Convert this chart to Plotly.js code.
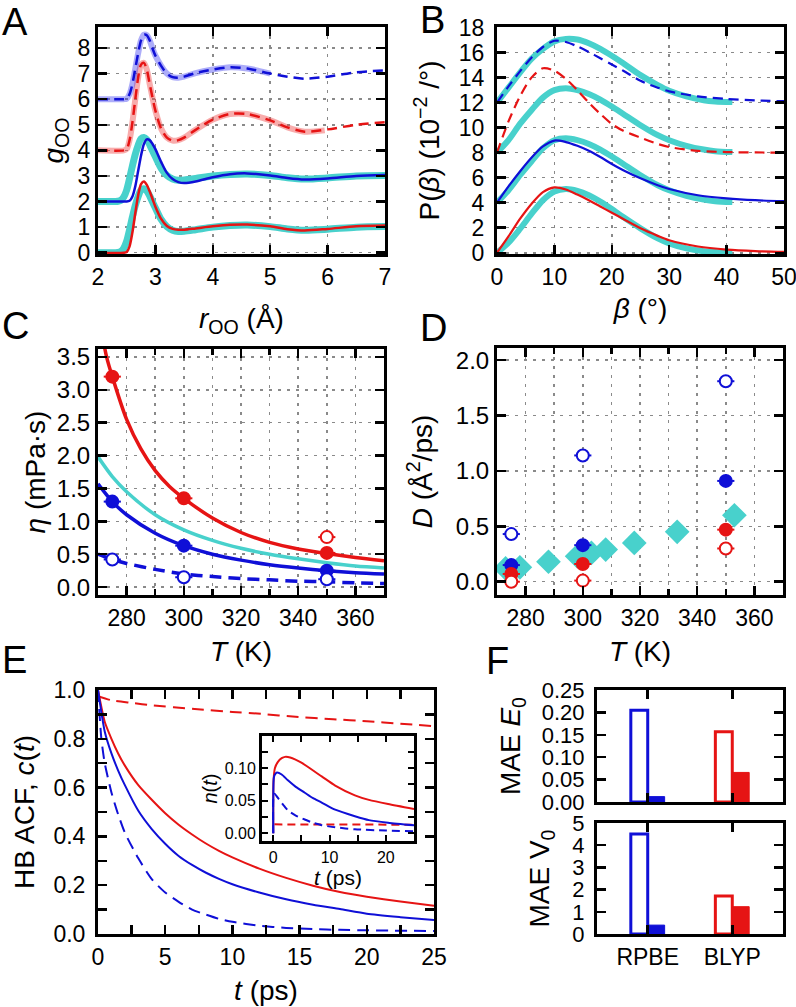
<!DOCTYPE html>
<html>
<head>
<meta charset="utf-8">
<script src="https://cdn.plot.ly/plotly-3.0.1.min.js"></script>
<style>html,body{margin:0;padding:0;background:#fff;}#plot{width:796px;height:1007px;}</style>
</head>
<body>
<div id="plot"></div>
<script>
// ---------- Panel A : g_OO(r) ----------
const aRExp  = [2.0,2.3,2.35,2.4,2.45,2.5,2.55,2.6,2.65,2.7,2.75,2.8,2.85,2.9,2.95,3.0,3.1,3.2,3.3,3.4,3.5,3.7,4.0,4.3,4.6,5.0,5.3,5.6,6.0,6.5,7.0];
const aGExp0 = [0,0,0.01,0.05,0.18,0.45,0.9,1.4,1.85,2.2,2.45,2.5,2.42,2.22,1.98,1.75,1.3,1.02,0.88,0.83,0.84,0.9,1.0,1.06,1.08,1.02,0.93,0.88,0.92,1.0,1.02];
const aGExp2 = [2,2,2.01,2.05,2.18,2.45,2.9,3.4,3.85,4.2,4.45,4.5,4.42,4.22,3.98,3.75,3.3,3.02,2.88,2.83,2.84,2.9,3.0,3.06,3.08,3.02,2.93,2.88,2.92,3.0,3.02];
const aRSim  = [2.0,2.45,2.5,2.55,2.6,2.65,2.7,2.75,2.8,2.85,2.9,2.95,3.0,3.1,3.2,3.3,3.4,3.5,3.7,4.0,4.3,4.6,5.0,5.3,5.6,6.0,6.5,7.0];
const aGRed0 = [0,0,0.03,0.25,0.8,1.55,2.25,2.68,2.78,2.65,2.4,2.1,1.8,1.32,1.04,0.93,0.9,0.9,0.95,1.03,1.09,1.1,1.03,0.92,0.87,0.93,1.03,1.06];
const aGBlue2= [2,2,2,2.03,2.2,2.6,3.2,3.8,4.25,4.43,4.4,4.25,4.05,3.55,3.12,2.88,2.76,2.72,2.78,2.95,3.07,3.1,3.02,2.92,2.86,2.9,3.0,3.04];
const aGRed4 = [4,4,4.05,4.4,5.1,6.0,6.85,7.35,7.42,7.15,6.6,6.05,5.55,4.85,4.5,4.38,4.4,4.5,4.8,5.2,5.42,5.42,5.17,4.9,4.73,4.82,5.0,5.1];
const aGBlue6= [6,6,6.02,6.2,6.6,7.2,7.8,8.3,8.52,8.5,8.3,7.98,7.7,7.3,7.0,6.86,6.84,6.88,7.02,7.16,7.25,7.2,7.0,6.88,6.8,6.88,7.05,7.12];
const aRRedThick  = [2.0,2.45,2.5,2.55,2.6,2.65,2.7,2.75,2.8,2.85,2.9,2.95,3.0,3.1,3.2,3.3,3.4,3.5,3.7,4.0,4.3,4.6,5.0,5.3,5.6,5.95];
const aGRedThick  = [4,4,4.05,4.4,5.1,6.0,6.85,7.35,7.42,7.15,6.6,6.05,5.55,4.85,4.5,4.38,4.4,4.5,4.8,5.2,5.42,5.42,5.17,4.9,4.73,4.78];
const aRBlueThick = [2.0,2.45,2.5,2.55,2.6,2.65,2.7,2.75,2.8,2.85,2.9,2.95,3.0,3.1,3.2,3.3,3.4,3.5,3.7,4.0,4.3,4.6,5.0];
const aGBlueThick = [6,6,6.02,6.2,6.6,7.2,7.8,8.3,8.52,8.5,8.3,7.98,7.7,7.3,7.0,6.86,6.84,6.88,7.02,7.16,7.25,7.2,7.0];

// ---------- Panel B : P(beta) ----------
const bBeta   = [0,2,4,6,8,10,12,14,16,18,20,22,25,28,30,35,40,45,50];
const bRed0   = [0,1.3,2.7,3.9,4.85,5.22,5.06,4.65,4.2,3.7,3.2,2.7,1.95,1.35,1.0,0.5,0.25,0.13,0.07];
const bBlue4  = [4,5.3,6.5,7.6,8.5,8.97,8.85,8.55,8.15,7.65,7.1,6.6,5.95,5.4,5.1,4.6,4.35,4.2,4.12];
const bRed8   = [8,10.5,12.5,14.0,14.75,14.55,13.9,13.0,12.0,11.1,10.3,9.75,9.2,8.7,8.45,8.15,8.05,8.02,8.0];
const bBlue12 = [12,13.3,14.5,15.6,16.45,16.95,16.85,16.5,16.05,15.55,15.05,14.55,13.75,13.2,12.9,12.5,12.3,12.18,12.12];
const bBetaExp = [0,2,4,6,8,10,12,14,16,18,20,22,25,28,30,33,36,38,41];
const bExp0   = [0,0.8,1.9,3.1,4.2,4.9,5.1,4.95,4.6,4.1,3.5,2.85,1.95,1.15,0.75,0.35,0.12,0.05,0.0];
const bExp4   = [4,5.0,6.2,7.3,8.35,9.0,9.15,9.0,8.7,8.25,7.7,7.1,6.2,5.4,5.0,4.55,4.25,4.12,4.05];
const bExp8   = [8,9.0,10.3,11.4,12.4,13.0,13.15,13.0,12.7,12.25,11.7,11.1,10.2,9.4,9.0,8.55,8.25,8.12,8.05];
const bExp12  = [12,13.2,14.4,15.5,16.3,16.9,17.1,17.05,16.75,16.3,15.75,15.15,14.2,13.4,12.95,12.5,12.2,12.1,12.05];

// ---------- Panel C : viscosity ----------
const cRedT     = [271,273,275,280,285,290,295,300,310,320,330,340,350,360,370];
const cRedFit   = [3.95,3.5,3.2,2.55,2.1,1.77,1.53,1.35,1.05,0.83,0.68,0.58,0.51,0.45,0.4];
const cT        = [270,275,280,290,300,310,320,330,340,350,360,370];
const cExpFit   = [1.98,1.68,1.45,1.1,0.87,0.71,0.59,0.5,0.43,0.37,0.32,0.29];
const cBlueFit  = [1.57,1.3,1.1,0.82,0.63,0.5,0.41,0.34,0.29,0.25,0.22,0.2];
const cBlueDash = [0.5,0.42,0.36,0.27,0.2,0.16,0.13,0.11,0.09,0.08,0.065,0.055];
const cPtT        = [275,300,350];
const cRedFilled  = [3.2,1.35,0.52];
const cBlueFilled = [1.3,0.63,0.25];
const cBlueOpen   = [0.42,0.15,0.12];
const cRedOpenT   = [350];
const cRedOpen    = [0.76];

// ---------- Panel D : diffusion ----------
const dPtT        = [275,300,350];
const dBlueOpen   = [0.43,1.14,1.81];
const dBlueFilled = [0.15,0.33,0.91];
const dRedFilled  = [0.07,0.16,0.47];
const dRedOpen    = [0.0,0.01,0.3];
const dExpT       = [273,278,288,298,303,308,318,333,353];
const dExp        = [0.12,0.13,0.18,0.23,0.26,0.29,0.35,0.45,0.6];

// ---------- Panel E : HB ACF ----------
const eT        = [0,0.5,1,1.5,2,3,4,5,6,7,8,9,10,12,14,16,18,20,22.5,25];
const eRed      = [1.0,0.87,0.8,0.74,0.69,0.61,0.55,0.495,0.448,0.408,0.372,0.341,0.314,0.268,0.23,0.198,0.172,0.153,0.133,0.116];
const eBlue     = [1.0,0.83,0.74,0.67,0.61,0.505,0.43,0.37,0.32,0.283,0.252,0.226,0.204,0.17,0.142,0.12,0.102,0.083,0.069,0.057];
const eTBd      = [0,0.25,0.5,1,1.5,2,3,4,5,6,7,8,9,10,12,14,16,18,20,25];
const eBlueDash = [1.0,0.8,0.7,0.58,0.49,0.415,0.31,0.225,0.17,0.132,0.1,0.08,0.062,0.05,0.034,0.025,0.02,0.017,0.015,0.012];
const eTRd      = [0,1,2.5,4,7.2,10,12.2,14.7,17.5,20,22.5,25];
const eRedDash  = [0.975,0.958,0.947,0.937,0.922,0.91,0.902,0.89,0.88,0.872,0.862,0.852];

// inset n(t)
const nTRed   = [0,0.05,0.3,0.8,1.5,2.1,3,5,8.6,11,14.5,17,20.4,25];
const nRed    = [0,0.08,0.1,0.109,0.115,0.117,0.116,0.108,0.087,0.073,0.058,0.051,0.0446,0.037];
const nTBlue  = [0,0.1,0.3,0.65,1.5,2.6,4,5.6,7,8.6,11,14.5,17,20.4,25];
const nBlue   = [0,0.085,0.09,0.093,0.09,0.081,0.071,0.062,0.054,0.047,0.036,0.026,0.02,0.016,0.012];
const nTBd    = [0,0.1,0.3,1,2,2.6,4,5.6,7,8.6,11,14.5,20,25];
const nBlueDash = [0,0.06,0.06,0.052,0.041,0.035,0.027,0.021,0.016,0.0123,0.009,0.006,0.004,0.003];
const nTRd    = [0.2,25];
const nRedDash = [0.0135,0.013];

// ---------- Panel F : MAE bars ----------
const fCats     = ['RPBE','BLYP'];
const fE0Open   = [0.205,0.157];
const fE0Filled = [0.012,0.066];
const fV0Open   = [4.5,1.71];
const fV0Filled = [0.4,1.23];

// ---------- styling ----------
const RED = 'rgb(230,20,20)', BLUE = 'rgb(15,15,215)', CYAN = 'rgb(72,209,204)';
const LRED = 'rgba(240,70,70,0.45)', LBLUE = 'rgba(60,60,240,0.42)';
const FONT = 'Liberation Sans, Arial, Helvetica, sans-serif';
const W = 796, H = 1007;
const dx = (a,b) => [a/W, b/W];
const dy = (a,b) => [1-b/H, 1-a/H];

function line(x,y,xa,ya,color,width,dash,shape,sm){
  return {x:x,y:y,xaxis:xa,yaxis:ya,type:'scatter',mode:'lines',hoverinfo:'skip',
    line:{color:color,width:width,dash:dash||'solid',shape:shape||'spline',smoothing:sm||0.8}};
}
function pts(x,y,xa,ya,color,open,size){
  return {x:x,y:y,xaxis:xa,yaxis:ya,type:'scatter',mode:'markers',hoverinfo:'skip',
    marker:{symbol:'circle',size:size||12,color:open?'white':color,line:{color:color,width:2}},
    error_x:{type:'constant',value:3,thickness:2,width:0,color:color}};
}

const traces = [];
// A
traces.push(line(aRExp,aGExp0,'x','y',CYAN,7));
traces.push(line(aRSim,aGRed0,'x','y',RED,2.5));
traces.push(line(aRExp,aGExp2,'x','y',CYAN,7));
traces.push(line(aRSim,aGBlue2,'x','y',BLUE,2.5));
traces.push(line(aRRedThick,aGRedThick,'x','y',LRED,6));
traces.push(line(aRSim,aGRed4,'x','y',RED,2.5,'10px,6px'));
traces.push(line(aRBlueThick,aGBlueThick,'x','y',LBLUE,6));
traces.push(line(aRSim,aGBlue6,'x','y',BLUE,2.5,'10px,6px'));
// B
traces.push(line(bBetaExp,bExp0,'x2','y2',CYAN,6));
traces.push(line(bBeta,bRed0,'x2','y2',RED,2.2));
traces.push(line(bBetaExp,bExp4,'x2','y2',CYAN,6));
traces.push(line(bBeta,bBlue4,'x2','y2',BLUE,2.2));
traces.push(line(bBetaExp,bExp8,'x2','y2',CYAN,6));
traces.push(line(bBeta,bRed8,'x2','y2',RED,2.2,'10px,6px'));
traces.push(line(bBetaExp,bExp12,'x2','y2',CYAN,6));
traces.push(line(bBeta,bBlue12,'x2','y2',BLUE,2.2,'10px,6px'));
// C
traces.push(line(cT,cExpFit,'x3','y3',CYAN,3.5));
traces.push(line(cRedT,cRedFit,'x3','y3',RED,3.5));
traces.push(line(cT,cBlueFit,'x3','y3',BLUE,3.5));
traces.push(line(cT,cBlueDash,'x3','y3',BLUE,3.5,'12px,7px'));
traces.push(pts(cPtT,cRedFilled,'x3','y3',RED,false));
traces.push(pts(cRedOpenT,cRedOpen,'x3','y3',RED,true));
traces.push(pts(cPtT,cBlueFilled,'x3','y3',BLUE,false));
traces.push(pts(cPtT,cBlueOpen,'x3','y3',BLUE,true));
// D
traces.push({x:dExpT,y:dExp,xaxis:'x4',yaxis:'y4',type:'scatter',mode:'markers',hoverinfo:'skip',
  marker:{symbol:'diamond',size:19,color:CYAN}});
traces.push(pts(dPtT,dBlueOpen,'x4','y4',BLUE,true));
traces.push(pts(dPtT,dBlueFilled,'x4','y4',BLUE,false));
traces.push(pts(dPtT,dRedFilled,'x4','y4',RED,false));
traces.push(pts(dPtT,dRedOpen,'x4','y4',RED,true));
// E
traces.push(line(eTRd,eRedDash,'x5','y5',RED,2,'12px,7px',null,0.6));
traces.push(line(eT,eRed,'x5','y5',RED,2,null,null,0.6));
traces.push(line(eT,eBlue,'x5','y5',BLUE,2,null,null,0.6));
traces.push(line(eTBd,eBlueDash,'x5','y5',BLUE,2,'12px,7px',null,0.6));
// inset
traces.push(line(nTRd,nRedDash,'x6','y6',RED,2,'8px,5px','linear'));
traces.push(line(nTRed,nRed,'x6','y6',RED,2,null,null,0.6));
traces.push(line(nTBd,nBlueDash,'x6','y6',BLUE,2,'8px,5px',null,0.6));
traces.push(line(nTBlue,nBlue,'x6','y6',BLUE,2,null,null,0.6));
// F
function bars(y,xa,ya,open){
  return {x:fCats,y:y,xaxis:xa,yaxis:ya,type:'bar',hoverinfo:'skip',
    marker:{color:open?['white','white']:[BLUE,RED],line:{color:[BLUE,RED],width:open?3:1}}};
}
traces.push(bars(fE0Open,'x7','y7',true));
traces.push(bars(fE0Filled,'x7','y7',false));
traces.push(bars(fV0Open,'x8','y8',true));
traces.push(bars(fV0Filled,'x8','y8',false));

const GRID = {showgrid:true,gridcolor:'#8a8a8a',gridwidth:1.5,griddash:'3px,6px'};
const TK = 23;
function ax(o){
  return Object.assign({showline:true,linecolor:'black',linewidth:3,mirror:'ticks',ticks:'inside',
    ticklen:9,tickwidth:2.5,tickcolor:'black',showgrid:false,zeroline:false,ticklabeloverflow:'allow',
    tickfont:{family:FONT,size:TK,color:'black'}},o);
}
const TF = {family:FONT,size:28,color:'black'};
const TMINOR = {dtick:10,ticks:'inside',ticklen:6,tickwidth:2.5,tickcolor:'black',
  showgrid:true,gridcolor:'#8a8a8a',gridwidth:1.5,griddash:'3px,6px'};
const FTK = {family:FONT,size:22,color:'black'};
const YTK = {family:FONT,size:24,color:'black'};

const layout = {
  width:W,height:H,margin:{l:0,r:0,t:0,b:0},paper_bgcolor:'white',plot_bgcolor:'white',
  showlegend:false,font:{family:FONT,color:'black'},
  barmode:'group',bargap:0.6,
  // A
  xaxis:ax(Object.assign({domain:dx(98,385),anchor:'y',range:[2,7],dtick:1,
    title:{text:'<i>r</i><sub>OO</sub> (Å)',font:TF,standoff:20}},GRID)),
  yaxis:ax(Object.assign({domain:dy(27,254),anchor:'x',range:[-0.05,8.82],dtick:1,
    title:{text:'<i>g</i><sub>OO</sub>',font:TF,standoff:6}},GRID)),
  // B
  xaxis2:ax(Object.assign({domain:dx(497,784),anchor:'y2',range:[0,50],dtick:10,
    title:{text:'<i>β</i> (°)',font:TF,standoff:10}},GRID)),
  yaxis2:ax(Object.assign({domain:dy(27,254),anchor:'x2',range:[-0.1,18.05],dtick:2,ticklabelstandoff:5,
    title:{text:'P(<i>β</i>) (10<sup>−2</sup> /°)',font:TF,standoff:12}},GRID)),
  // C
  xaxis3:ax(Object.assign({domain:dx(98,384),anchor:'y3',range:[270,370],tick0:280,dtick:20,minor:TMINOR,
    title:{text:'<i>T</i> (K)',font:TF,standoff:12}},GRID)),
  yaxis3:ax(Object.assign({domain:dy(349,595),anchor:'x3',range:[-0.12,3.62],dtick:0.5,tickformat:'.1f',tickfont:YTK,
    title:{text:'<i>η</i> (mPa·s)',font:TF,standoff:4}},GRID)),
  // D
  xaxis4:ax(Object.assign({domain:dx(497,783),anchor:'y4',range:[270,370],tick0:280,dtick:20,minor:TMINOR,
    title:{text:'<i>T</i> (K)',font:TF,standoff:12}},GRID)),
  yaxis4:ax(Object.assign({domain:dy(348,595),anchor:'x4',range:[-0.12,2.11],dtick:0.5,tickformat:'.1f',tickfont:YTK,
    title:{text:'<i>D</i> (Å<sup>2</sup>/ps)',font:TF,standoff:16}},GRID)),
  // E
  xaxis5:ax({domain:dx(98,434),anchor:'y5',range:[0,25],dtick:5,minor:{dtick:2.5,ticks:'inside',ticklen:9,tickwidth:2.5,tickcolor:'black'},
    title:{text:'<i>t</i> (ps)',font:TF,standoff:12}}),
  yaxis5:ax({domain:dy(690,934),anchor:'x5',range:[0,1.0],dtick:0.2,tickformat:'.1f',ticklabelstandoff:5,
    minor:{dtick:0.1,ticks:'inside',ticklen:9,tickwidth:2.5,tickcolor:'black'},
    title:{text:'HB ACF, <i>c</i>(<i>t</i>)',font:TF,standoff:11}}),
  // inset
  xaxis6:ax({domain:dx(262,414),anchor:'y6',range:[-2,25],dtick:10,linewidth:3,ticklen:6,tickwidth:2,
    minor:{dtick:5,ticks:'inside',ticklen:6,tickwidth:2,tickcolor:'black'},
    tickfont:{family:FONT,size:16,color:'black'},
    title:{text:'<i>t</i> (ps)',font:{family:FONT,size:21,color:'black'},standoff:2}}),
  yaxis6:ax({domain:dy(736,841),anchor:'x6',range:[-0.012,0.149],dtick:0.05,tickformat:'.2f',ticklen:6,tickwidth:2,
    minor:{dtick:0.025,ticks:'inside',ticklen:6,tickwidth:2,tickcolor:'black'},
    tickfont:{family:FONT,size:16,color:'black'},
    title:{text:'<i>n</i>(<i>t</i>)',font:{family:FONT,size:20,color:'black'},standoff:2}}),
  // F top
  xaxis7:ax({domain:dx(597,783),anchor:'y7',type:'category',range:[-0.6,1.6],showticklabels:false}),
  yaxis7:ax({domain:dy(690,802),anchor:'x7',range:[0,0.25],dtick:0.05,tickformat:'.2f',ticklabelstandoff:5,tickfont:FTK,
    title:{text:'MAE <i>E</i><sub>0</sub>',font:TF,standoff:13}}),
  // F bottom
  xaxis8:ax({domain:dx(597,783),anchor:'y8',type:'category',range:[-0.6,1.6],tickfont:{family:FONT,size:TK,color:'black'}}),
  yaxis8:ax({domain:dy(823,934),anchor:'x8',range:[0,5],dtick:1,ticklabelstandoff:5,tickfont:FTK,
    title:{text:'MAE V<sub>0</sub>',font:TF,standoff:15}}),
  annotations:[
    ['A',0,22],['B',418,20],['C',0,326],['D',418,328],['E',0,660],['F',484,661]
  ].map(a=>({text:a[0],x:a[1]/W,y:1-a[2]/H,xref:'paper',yref:'paper',xanchor:'left',yanchor:'middle',
     showarrow:false,font:{family:FONT,size:38,color:'black'}}))
};

Plotly.newPlot('plot',traces,layout,{staticPlot:true,displayModeBar:false});
</script>
</body>
</html>
